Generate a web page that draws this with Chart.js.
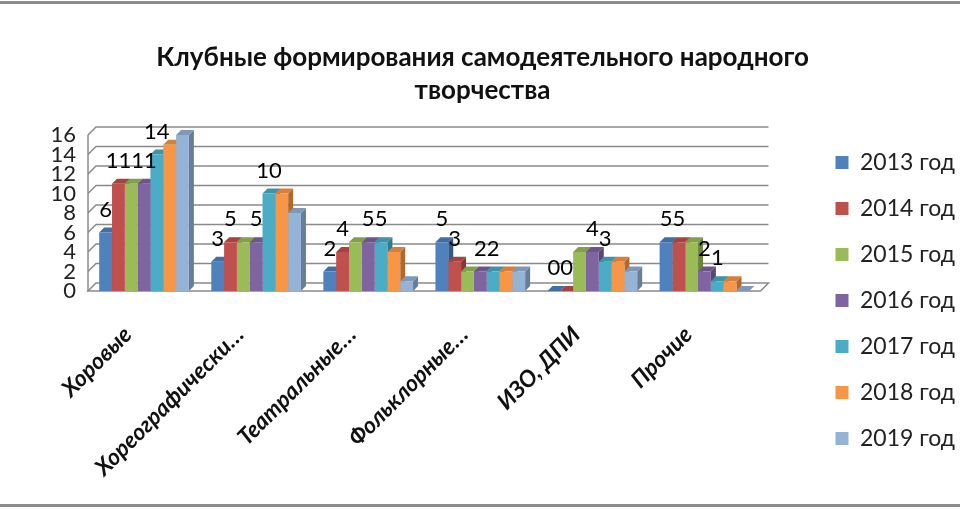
<!DOCTYPE html>
<html>
<head>
<meta charset="utf-8">
<script src="https://cdn.jsdelivr.net/npm/chart.js@4/dist/chart.umd.min.js"></script>
<style>
  html, body { margin: 0; padding: 0; background: #fff; }
  #wrap { position: relative; width: 960px; height: 510px; }
  #wrap:before, #wrap:after { content: ''; position: absolute; left: 0; right: 0; height: 3px; background: #8c8c8c; z-index: 2; }
  #wrap:before { top: 1px; }
  #wrap:after { top: 504px; }
</style>
</head>
<body>
<div id="wrap"><canvas id="chart" width="960" height="510"></canvas></div>
<script>
const categories = ['Хоровые', 'Хореографически…', 'Театральные…', 'Фольклорные…', 'ИЗО, ДПИ', 'Прочие'];
const years = ['2013 год', '2014 год', '2015 год', '2016 год', '2017 год', '2018 год', '2019 год'];
const v2013 = [6, 3, 2, 5, 0, 5];
const v2014 = [11, 5, 4, 3, 0, 5];
const v2015 = [11, 5, 5, 2, 4, 5];
const v2016 = [11, 5, 5, 2, 4, 2];
const v2017 = [14, 10, 5, 2, 3, 1];
const v2018 = [15, 10, 4, 2, 3, 1];
const v2019 = [16, 8, 1, 2, 2, 0];
const yTicks = [0, 2, 4, 6, 8, 10, 12, 14, 16];
// only these series carry value labels in the picture
const labeledSeries = [0, 1, 3, 4];

const colors = ['#4F81BD', '#C0504D', '#9BBB59', '#8064A2', '#4BACC6', '#F79646', '#95B3D7'];
const series = [v2013, v2014, v2015, v2016, v2017, v2018, v2019];
const FONT = 'Lato, "Open Sans", sans-serif';
const DEPTH = 5;   // 3-D face depth
const WALL = 8;    // back wall shift

function shade(hex, k) {
  const r = parseInt(hex.slice(1, 3), 16);
  const g = parseInt(hex.slice(3, 5), 16);
  const b = parseInt(hex.slice(5, 7), 16);
  return `rgb(${Math.round(r * k)}, ${Math.round(g * k)}, ${Math.round(b * k)})`;
}

const wall3d = {
  id: 'wall3d',
  beforeDatasetsDraw(chart) {
    const ctx = chart.ctx;
    const area = chart.chartArea;
    const y = chart.scales.y;
    ctx.save();
    ctx.strokeStyle = '#8a8a8a';
    ctx.lineWidth = 1.5;
    yTicks.forEach(t => {
      const py = y.getPixelForValue(t);
      ctx.beginPath();
      if (t === 0) {
        // floor
        ctx.moveTo(area.left, py);
        ctx.lineTo(area.right, py);
        ctx.lineTo(area.right + WALL, py - WALL);
        ctx.lineTo(area.left + WALL, py - WALL);
        ctx.closePath();
      } else {
        ctx.moveTo(area.left, py);
        ctx.lineTo(area.left + WALL, py - WALL);
        ctx.lineTo(area.right + WALL, py - WALL);
      }
      ctx.stroke();
    });
    ctx.beginPath();
    ctx.moveTo(area.left, y.getPixelForValue(0));
    ctx.lineTo(area.left, y.getPixelForValue(16));
    ctx.stroke();
    // side and top faces of the bars, drawn under the fronts
    chart.data.datasets.forEach((ds, di) => {
      const meta = chart.getDatasetMeta(di);
      meta.data.forEach(bar => {
        const w = bar.width;
        const x0 = bar.x - w / 2, x1 = bar.x + w / 2;
        ctx.fillStyle = shade(colors[di], 0.7);
        ctx.beginPath();
        ctx.moveTo(x1, bar.y);
        ctx.lineTo(x1 + DEPTH, bar.y - DEPTH);
        ctx.lineTo(x1 + DEPTH, bar.base - DEPTH);
        ctx.lineTo(x1, bar.base);
        ctx.closePath();
        ctx.fill();
        ctx.fillStyle = shade(colors[di], 0.85);
        ctx.beginPath();
        ctx.moveTo(x0, bar.y);
        ctx.lineTo(x0 + DEPTH, bar.y - DEPTH);
        ctx.lineTo(x1 + DEPTH, bar.y - DEPTH);
        ctx.lineTo(x1, bar.y);
        ctx.closePath();
        ctx.fill();
      });
    });
    ctx.restore();
  }
};

const valueLabels = {
  id: 'valueLabels',
  afterDatasetsDraw(chart) {
    const ctx = chart.ctx;
    ctx.save();
    ctx.font = '22px ' + FONT;
    ctx.fillStyle = '#000';
    ctx.textAlign = 'center';
    ctx.textBaseline = 'bottom';
    labeledSeries.forEach(di => {
      const meta = chart.getDatasetMeta(di);
      meta.data.forEach((bar, i) => {
        ctx.fillText(String(series[di][i]), bar.x, bar.y - 12);
      });
    });
    ctx.restore();
  }
};

new Chart(document.getElementById('chart'), {
  type: 'bar',
  data: {
    labels: categories,
    datasets: years.map((name, i) => ({
      label: name,
      data: series[i],
      backgroundColor: colors[i],
      borderWidth: 0,
      categoryPercentage: 0.8,
      barPercentage: 1.0
    }))
  },
  options: {
    responsive: false,
    animation: false,
    layout: { padding: { left: 0, right: -5, top: 0, bottom: 0 } },
    scales: {
      x: {
        grid: { display: false, drawTicks: false },
        border: { display: false },
        ticks: {
          color: '#111',
          font: { family: FONT, size: 23, weight: 'bold', style: 'italic' },
          minRotation: 45,
          maxRotation: 45,
          padding: 30,
          labelOffset: -16,
          autoSkip: false
        },
        afterFit(scale) { scale.height = 219; }
      },
      y: {
        min: 0,
        max: 16,
        grid: { display: false, drawTicks: false },
        border: { display: false },
        ticks: {
          stepSize: 2,
          autoSkip: false,
          color: '#222',
          font: { family: FONT, size: 22, lineHeight: 0.9 },
          padding: 12
        },
        afterFit(scale) { scale.width = 88; }
      },
      // empty spacer between the plot and the legend
      gap: {
        type: 'linear',
        position: 'right',
        display: true,
        grid: { display: false, drawTicks: false },
        border: { display: false },
        ticks: { display: false },
        afterFit(scale) { scale.width = 52; }
      }
    },
    plugins: {
      title: {
        display: true,
        text: ['Клубные формирования самодеятельного народного', 'творчества'],
        color: '#111',
        font: { family: FONT, size: 26, weight: 'bold', lineHeight: 1.27 },
        padding: { top: 41, bottom: 28 }
      },
      legend: {
        position: 'right',
        title: { display: true, text: '', font: { size: 1 }, padding: { top: 90, bottom: 0 } },
        labels: {
          color: '#222',
          font: { family: FONT, size: 23 },
          boxWidth: 13,
          boxHeight: 13,
          padding: 23
        }
      },
      tooltip: { enabled: false }
    }
  },
  plugins: [wall3d, valueLabels]
});
</script>
</body>
</html>
